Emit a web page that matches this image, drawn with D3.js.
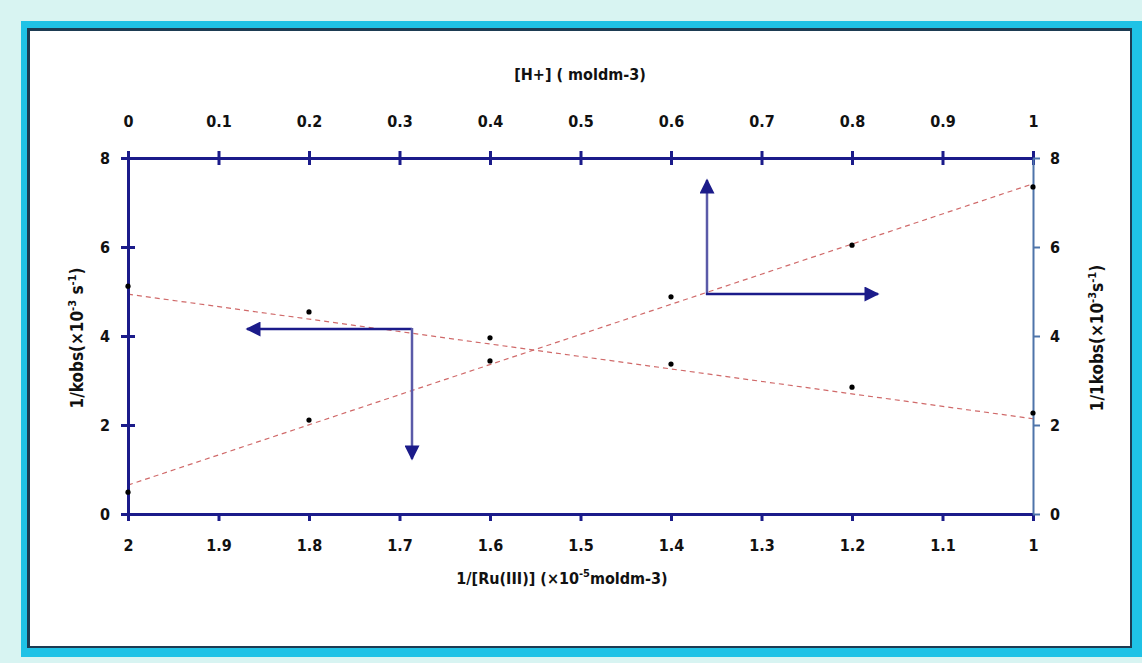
<!DOCTYPE html>
<html>
<head>
<meta charset="utf-8">
<script src="https://cdn.jsdelivr.net/npm/d3@7"></script>
<style>
  body { margin: 0; background: #d8f4f2; }
  svg text { font-family: "DejaVu Sans Condensed", "Liberation Sans Narrow", sans-serif; font-weight: bold; fill: #111; }
</style>
</head>
<body>
<script>
// data
var ruInv = [2, 1.8, 1.6, 1.4, 1.2, 1.0];           // 1/[Ru(III)] (bottom axis)
var kobsRu = [5.12, 4.54, 3.96, 3.37, 2.85, 2.27];  // left axis
var hConc = [0, 0.2, 0.4, 0.6, 0.8, 1.0];           // [H+] (top axis)
var kobsH = [0.49, 2.11, 3.44, 4.88, 6.04, 7.35];   // right axis

// trend line end points
var trendRuX = [2, 1];
var trendRuY = [4.94, 2.14];
var trendHX = [0, 1];
var trendHY = [0.65, 7.42];

var bottomTicks = [2, 1.9, 1.8, 1.7, 1.6, 1.5, 1.4, 1.3, 1.2, 1.1, 1];
var topTicks = [0, 0.1, 0.2, 0.3, 0.4, 0.5, 0.6, 0.7, 0.8, 0.9, 1];
var yTicks = [0, 2, 4, 6, 8];

var svgWidth = 1142, svgHeight = 663;
var margin = { top: 158, left: 128 };
var width = 905, height = 356;

var svg = d3.select("body").append("svg")
  .attr("width", svgWidth)
  .attr("height", svgHeight);

// frame
svg.append("rect").attr("x", 21).attr("y", 21).attr("width", 1121).attr("height", 636).attr("fill", "#1fc2e6");
svg.append("rect").attr("x", 27).attr("y", 28).attr("width", 1105).attr("height", 620).attr("fill", "#1d3b52");
svg.append("rect").attr("x", 30).attr("y", 31).attr("width", 1100).attr("height", 615).attr("fill", "#ffffff");

var chartGroup = svg.append("g")
  .attr("transform", `translate(${margin.left}, ${margin.top})`);

var xBottom = d3.scaleLinear().domain([2, 1]).range([0, width]);
var xTop = d3.scaleLinear().domain([0, 1]).range([0, width]);
var yScale = d3.scaleLinear().domain([0, 8]).range([height, 0]);

var navy = "#1b1b8a";
var steel = "#4e74aa";
var trendColor = "#d06a6a";

// trend lines
var line = d3.line().x(d => d[0]).y(d => d[1]);
chartGroup.append("path")
  .datum(trendRuX.map((x, i) => [xBottom(x), yScale(trendRuY[i])]))
  .attr("d", line)
  .attr("fill", "none").attr("stroke", trendColor).attr("stroke-width", 1.2)
  .attr("stroke-dasharray", "5,4");
chartGroup.append("path")
  .datum(trendHX.map((x, i) => [xTop(x), yScale(trendHY[i])]))
  .attr("d", line)
  .attr("fill", "none").attr("stroke", trendColor).attr("stroke-width", 1.2)
  .attr("stroke-dasharray", "5,4");

// axes
var bottomAxis = d3.axisBottom(xBottom).tickValues(bottomTicks).tickFormat(d3.format("")).tickSize(7).tickSizeOuter(0).tickPadding(19);
var topAxis = d3.axisTop(xTop).tickValues(topTicks).tickFormat(d3.format("")).tickSize(7).tickSizeOuter(0).tickPadding(24);
var leftAxis = d3.axisLeft(yScale).tickValues(yTicks).tickSize(7).tickSizeOuter(0).tickPadding(11);
var rightAxis = d3.axisRight(yScale).tickValues(yTicks).tickSize(7).tickSizeOuter(0).tickPadding(10);

var gBottom = chartGroup.append("g").attr("transform", `translate(0, ${height})`).call(bottomAxis);
var gTop = chartGroup.append("g").call(topAxis);
var gLeft = chartGroup.append("g").call(leftAxis);
var gRight = chartGroup.append("g").attr("transform", `translate(${width}, 0)`).call(rightAxis);

[gBottom, gTop, gLeft].forEach(function(g) {
  g.select(".domain").attr("stroke", navy).attr("stroke-width", 3);
  g.selectAll(".tick line").attr("stroke", navy).attr("stroke-width", 3);
});
gRight.select(".domain").attr("stroke", steel).attr("stroke-width", 2);
gRight.selectAll(".tick line").attr("stroke", steel).attr("stroke-width", 2);

// top and left ticks cross the axis line
gTop.selectAll(".tick line").attr("y1", 7);
gLeft.selectAll(".tick line").attr("x1", 7);

[gBottom, gTop, gLeft, gRight].forEach(function(g) {
  g.selectAll(".tick text").style("font-size", "16px").attr("fill", "#111");
});

// points
chartGroup.selectAll(".ptRu")
  .data(ruInv)
  .enter()
  .append("circle")
  .attr("cx", d => xBottom(d))
  .attr("cy", (d, i) => yScale(kobsRu[i]))
  .attr("r", 2.6)
  .attr("fill", "#000");

chartGroup.selectAll(".ptH")
  .data(hConc)
  .enter()
  .append("circle")
  .attr("cx", d => xTop(d))
  .attr("cy", (d, i) => yScale(kobsH[i]))
  .attr("r", 2.6)
  .attr("fill", "#000");

// arrows
var defs = svg.append("defs");
defs.append("marker")
  .attr("id", "head")
  .attr("viewBox", "0 0 10 10")
  .attr("refX", 9).attr("refY", 5)
  .attr("markerWidth", 7).attr("markerHeight", 6)
  .attr("markerUnits", "strokeWidth")
  .attr("orient", "auto")
  .append("path").attr("d", "M0,0 L10,5 L0,10 Z").attr("fill", navy);

// arrow pointing to the left and bottom axes
svg.append("line").attr("x1", 412).attr("y1", 329).attr("x2", 247).attr("y2", 329)
  .attr("stroke", navy).attr("stroke-width", 2.5).attr("marker-end", "url(#head)");
svg.append("line").attr("x1", 412).attr("y1", 328).attr("x2", 412).attr("y2", 459)
  .attr("stroke", "#5a5aa8").attr("stroke-width", 2.5).attr("marker-end", "url(#head)");
// arrow pointing to the top and right axes
svg.append("line").attr("x1", 707).attr("y1", 295).attr("x2", 707).attr("y2", 180)
  .attr("stroke", "#5a5aa8").attr("stroke-width", 2.5).attr("marker-end", "url(#head)");
svg.append("line").attr("x1", 706).attr("y1", 294).attr("x2", 878).attr("y2", 294)
  .attr("stroke", navy).attr("stroke-width", 2.5).attr("marker-end", "url(#head)");

// axis titles
svg.append("text")
  .attr("x", 580).attr("y", 80)
  .attr("text-anchor", "middle")
  .style("font-size", "16px")
  .text("[H+] ( moldm-3)");

var bottomTitle = svg.append("text")
  .attr("x", 562).attr("y", 584)
  .attr("text-anchor", "middle")
  .style("font-size", "16px");
bottomTitle.append("tspan").text("1/[Ru(III)] (×10");
bottomTitle.append("tspan").attr("dy", -7).style("font-size", "11px").text("-5");
bottomTitle.append("tspan").attr("dy", 7).text("moldm-3)");

var leftTitle = svg.append("text")
  .attr("transform", "translate(83, 338) rotate(-90)")
  .attr("text-anchor", "middle")
  .style("font-size", "17px");
leftTitle.append("tspan").text("1/kobs(×10");
leftTitle.append("tspan").attr("dy", -7).style("font-size", "11px").text("-3");
leftTitle.append("tspan").attr("dy", 7).text(" s");
leftTitle.append("tspan").attr("dy", -7).style("font-size", "11px").text("-1");
leftTitle.append("tspan").attr("dy", 7).text(")");

var rightTitle = svg.append("text")
  .attr("transform", "translate(1103, 338) rotate(-90)")
  .attr("text-anchor", "middle")
  .style("font-size", "17px");
rightTitle.append("tspan").text("1/1kobs(×10");
rightTitle.append("tspan").attr("dy", -7).style("font-size", "11px").text("-3");
rightTitle.append("tspan").attr("dy", 7).text("s");
rightTitle.append("tspan").attr("dy", -7).style("font-size", "11px").text("-1");
rightTitle.append("tspan").attr("dy", 7).text(")");
</script>
</body>
</html>
